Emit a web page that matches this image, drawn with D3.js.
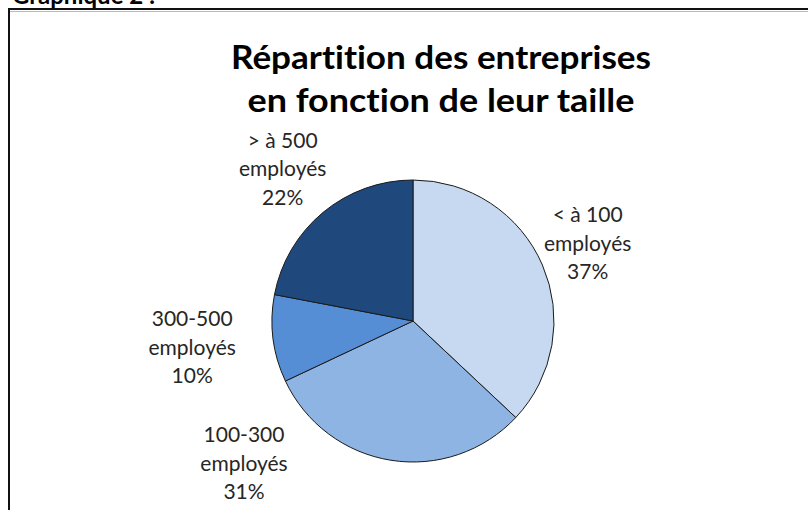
<!DOCTYPE html>
<html><head><meta charset="utf-8">
<script src="https://cdn.jsdelivr.net/npm/d3@7"></script>
<style>html,body{margin:0;padding:0;background:#fff;}svg{display:block;}text{font-variant-ligatures:none;font-feature-settings:"liga" 0;}</style>
</head><body>
<svg id="c" width="808" height="510"></svg>
<script>
const categories = ["< à 100 employés", "100-300 employés", "300-500 employés", "> à 500 employés"];
const labelLines = [["< à 100", "employés"], ["100-300", "employés"], ["300-500", "employés"], ["> à 500", "employés"]];
const values = [37, 31, 10, 22];
const colors = ["#C6D9F1", "#8EB4E3", "#558ED5", "#1F497D"];
const titleLines = ["Répartition des entreprises", "en fonction de leur taille"];
const caption = "Graphique 2 :";

const svg = d3.select("#c");
const W = 808, H = 510;
const cx = 413, cy = 321, R = 141;

// frame
svg.append("rect").attr("x", 9).attr("y", 9).attr("width", W + 10).attr("height", H + 10)
  .attr("fill", "#fff").attr("stroke", "#111").attr("stroke-width", 2);
svg.append("line").attr("x1", 10).attr("x2", W).attr("y1", 11.5).attr("y2", 11.5)
  .attr("stroke", "#bbb").attr("stroke-width", 1);

svg.append("text").attr("x", 12).attr("y", 4).text(caption)
  .attr("font-family", "Lato, 'Open Sans', sans-serif").attr("font-weight", "bold")
  .attr("font-size", 24).attr("fill", "#000");

const tWidths = [420, 387];
svg.append("g").selectAll("text").data(titleLines).join("text")
  .attr("x", 441).attr("y", (d, i) => 69 + i * 43)
  .attr("text-anchor", "middle")
  .attr("font-family", "Lato, 'Open Sans', sans-serif").attr("font-weight", "bold")
  .attr("font-size", 33).attr("fill", "#000")
  .attr("textLength", (d, i) => tWidths[i]).attr("lengthAdjust", "spacingAndGlyphs")
  .text(d => d);

const pie = d3.pie().sort(null).value(d => d);
const arcs = pie(values);
const arc = d3.arc().innerRadius(0).outerRadius(R);
const g = svg.append("g").attr("transform", `translate(${cx},${cy})`);
g.selectAll("path").data(arcs).join("path")
  .attr("d", arc).attr("fill", (d, i) => colors[i])
  .attr("stroke", "#1a1a1a").attr("stroke-width", 1).attr("stroke-linejoin", "round");

// labels: centroid at larger radius, with best-fit nudges like Excel
const labelArc = d3.arc().innerRadius(R * 1.45).outerRadius(R * 1.45);
const nudges = [[-13, 11], [-137, -52], [-18, 8], [0, 13]];
const lg = g.selectAll("g.lab").data(arcs).join("g").attr("class", "lab")
  .attr("transform", (d, i) => {
    const c = labelArc.centroid(d);
    return `translate(${c[0] + nudges[i][0]},${c[1] + nudges[i][1]})`;
  });
lg.each(function(d, i) {
  const lines = labelLines[i].concat([Math.round(d.data) + "%"]);
  d3.select(this).selectAll("text").data(lines).join("text")
    .attr("x", 0).attr("y", (t, j) => (j - 1) * 28.5)
    .attr("text-anchor", "middle")
    .attr("font-family", "Lato, 'Open Sans', sans-serif")
    .attr("font-size", 21).attr("fill", "#262626")
    .text(t => t);
});
</script>
</body></html>
